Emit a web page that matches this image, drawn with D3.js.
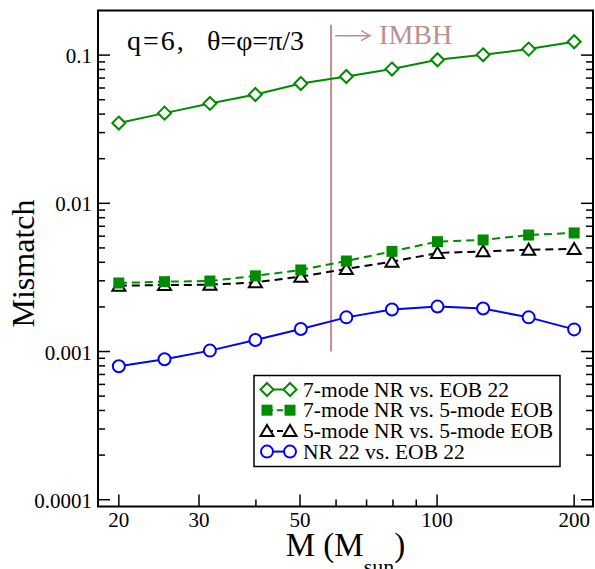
<!DOCTYPE html>
<html>
<head>
<meta charset="utf-8">
<script src="https://cdn.jsdelivr.net/npm/d3@7"></script>
<style>
  html, body { margin: 0; padding: 0; background: #fff; }
  svg { display: block; }
  text { font-family: "Liberation Serif", "Times New Roman", serif; }
</style>
</head>
<body>
<svg id="chart" width="595" height="569"></svg>
<script>
// ---- data ----
const masses = [20, 25.2, 31.7, 39.9, 50.2, 63.2, 79.6, 100.2, 126.2, 158.9, 200];
const sevenModeVsEob22 = [0.0348, 0.0406, 0.0472, 0.0542, 0.0643, 0.0717, 0.0805, 0.0930, 0.1005, 0.1098, 0.1230];
const sevenModeVsFiveModeEob = [0.00290, 0.00296, 0.00299, 0.00324, 0.00355, 0.00408, 0.00474, 0.00551, 0.00566, 0.00611, 0.00631];
const fiveModeVsFiveModeEob = [0.00278, 0.00281, 0.00282, 0.00293, 0.00320, 0.00361, 0.00404, 0.00462, 0.00474, 0.00486, 0.00492];
const nr22VsEob22 = [0.000795, 0.000886, 0.001014, 0.001197, 0.00142, 0.00170, 0.00192, 0.00201, 0.00195, 0.00170, 0.00141];

const seriesNames = ["7-mode NR vs. EOB 22", "7-mode NR vs. 5-mode EOB", "5-mode NR vs. 5-mode EOB", "NR 22 vs. EOB 22"];
const xMajorTicks = [20, 30, 50, 100, 200];
const xMinorTicks = [40, 60, 70, 80, 90];
const yMajorTicks = [0.1, 0.01, 0.001, 0.0001];
const yTickLabels = ["0.1", "0.01", "0.001", "0.0001"];
const xDomain = [18, 220];
const yDomain = [9e-5, 0.2];
const imbhMass = 58.5;
const imbhRange = [0.001, 0.16];
const titleParts = ["q=6,", "θ=φ=π/3"];

// ---- layout ----
const svg = d3.select("#chart");
const L = 98, R = 593, T = 10.5, B = 506.5;
const x = d3.scaleLog().domain(xDomain).range([L, R]);
const y = d3.scaleLog().domain(yDomain).range([B, T]);

const green = "#008b00", blue = "#0000ff", rosy = "#bc8f8f";

// minor y ticks
const yMinor = [];
[0.0001, 0.001, 0.01, 0.1].forEach(d => { for (let k = 2; k <= 9; k++) { const v = d * k; if (v < yDomain[1]) yMinor.push(v); } });

const axes = svg.append("g").attr("stroke", "#000").attr("stroke-width", 1.5);
yMajorTicks.forEach(v => {
  axes.append("line").attr("x1", L).attr("x2", L + 12).attr("y1", y(v)).attr("y2", y(v));
  axes.append("line").attr("x1", R).attr("x2", R - 12).attr("y1", y(v)).attr("y2", y(v));
});
yMinor.forEach(v => {
  axes.append("line").attr("x1", L).attr("x2", L + 7).attr("y1", y(v)).attr("y2", y(v));
  axes.append("line").attr("x1", R).attr("x2", R - 7).attr("y1", y(v)).attr("y2", y(v));
});
xMajorTicks.forEach(v => axes.append("line").attr("x1", x(v)).attr("x2", x(v)).attr("y1", B).attr("y2", B - 12));
xMinorTicks.forEach(v => axes.append("line").attr("x1", x(v)).attr("x2", x(v)).attr("y1", B).attr("y2", B - 7));

// frame
svg.append("rect").attr("x", L).attr("y", T).attr("width", R - L).attr("height", B - T)
  .attr("fill", "none").attr("stroke", "#000").attr("stroke-width", 2);

// tick labels
svg.append("g").selectAll("text").data(yMajorTicks).join("text")
  .attr("x", L - 6).attr("y", d => y(d) + 8).attr("text-anchor", "end")
  .attr("font-size", 21).text((d, i) => yTickLabels[i]);
svg.append("g").selectAll("text").data(xMajorTicks).join("text")
  .attr("x", d => x(d)).attr("y", 527).attr("text-anchor", "middle")
  .attr("font-size", 21).text(d => d);

// axis titles
const xl = svg.append("text").attr("x", (L + R) / 2).attr("y", 556).attr("text-anchor", "middle").attr("font-size", 33);
xl.append("tspan").text("M (M");
xl.append("tspan").attr("font-size", 22).attr("dy", 18).text("sun");
xl.append("tspan").attr("dy", -18).text(")");
svg.append("text").attr("transform", `translate(34,${(T + B) / 2 + 5}) rotate(-90)`)
  .attr("text-anchor", "middle").attr("font-size", 32).text("Mismatch");

// title
const tt = svg.append("text").attr("y", 50).attr("font-size", 28);
tt.append("tspan").attr("x", 127).attr("letter-spacing", 2).text(titleParts[0]);
tt.append("tspan").attr("x", 207).text(titleParts[1]);

// IMBH marker
svg.append("line").attr("x1", x(imbhMass)).attr("x2", x(imbhMass))
  .attr("y1", y(imbhRange[0])).attr("y2", y(imbhRange[1]))
  .attr("stroke", rosy).attr("stroke-width", 2);
const ay = 35.7, ax0 = x(imbhMass) + 4, ax1 = ax0 + 35;
svg.append("path").attr("d", `M${ax0},${ay}H${ax1}M${ax1 - 9},${ay - 5}L${ax1},${ay}L${ax1 - 9},${ay + 5}`)
  .attr("fill", "none").attr("stroke", rosy).attr("stroke-width", 1.5);
svg.append("text").attr("x", ax1 + 9).attr("y", 43.5).attr("font-size", 28).attr("fill", rosy).text("IMBH");

// ---- series ----
const series = [
  { name: seriesNames[0], vals: sevenModeVsEob22, color: green, dash: null, marker: "diamond" },
  { name: seriesNames[1], vals: sevenModeVsFiveModeEob, color: green, dash: "8,5", marker: "square" },
  { name: seriesNames[2], vals: fiveModeVsFiveModeEob, color: "#000", dash: "8,5", marker: "triangle" },
  { name: seriesNames[3], vals: nr22VsEob22, color: blue, dash: null, marker: "circle" }
];

function drawMarker(g, type, cx, cy, color) {
  if (type === "diamond") {
    g.append("path").attr("d", `M${cx},${cy - 6.5}L${cx + 6.5},${cy}L${cx},${cy + 6.5}L${cx - 6.5},${cy}Z`)
      .attr("fill", "#fff").attr("stroke", color).attr("stroke-width", 2);
  } else if (type === "square") {
    g.append("rect").attr("x", cx - 5.5).attr("y", cy - 5.5).attr("width", 11).attr("height", 11).attr("fill", color);
  } else if (type === "triangle") {
    g.append("path").attr("d", `M${cx},${cy - 6}L${cx + 6.5},${cy + 5}L${cx - 6.5},${cy + 5}Z`)
      .attr("fill", "#fff").attr("stroke", color).attr("stroke-width", 2);
  } else {
    g.append("circle").attr("cx", cx).attr("cy", cy).attr("r", 6)
      .attr("fill", "#fff").attr("stroke", color).attr("stroke-width", 2);
  }
}

const line = d3.line().x(d => x(d[0])).y(d => y(d[1]));
series.slice().reverse().forEach(s => {
  const pts = masses.map((m, i) => [m, s.vals[i]]);
  svg.append("path").attr("d", line(pts)).attr("fill", "none").attr("stroke", s.color)
    .attr("stroke-width", 2).attr("stroke-dasharray", s.dash);
});
series.slice().reverse().forEach(s => {
  const g = svg.append("g");
  masses.forEach((m, i) => drawMarker(g, s.marker, x(m), y(s.vals[i]), s.color));
});

// ---- legend ----
const lg = svg.append("g");
lg.append("rect").attr("x", 254).attr("y", 375.5).attr("width", 306).attr("height", 91)
  .attr("fill", "#fff").attr("stroke", "#000").attr("stroke-width", 1.5);
series.forEach((s, i) => {
  const by = 396.5 + i * 20.7, cy = by - 7;
  lg.append("line").attr("x1", 267).attr("x2", 290).attr("y1", cy).attr("y2", cy)
    .attr("stroke", s.color).attr("stroke-width", 2).attr("stroke-dasharray", s.dash ? "6,4" : null);
  drawMarker(lg, s.marker, 267, cy, s.color);
  drawMarker(lg, s.marker, 290, cy, s.color);
  lg.append("text").attr("x", 303).attr("y", by).attr("font-size", 21.5).text(s.name);
});
</script>
</body>
</html>
